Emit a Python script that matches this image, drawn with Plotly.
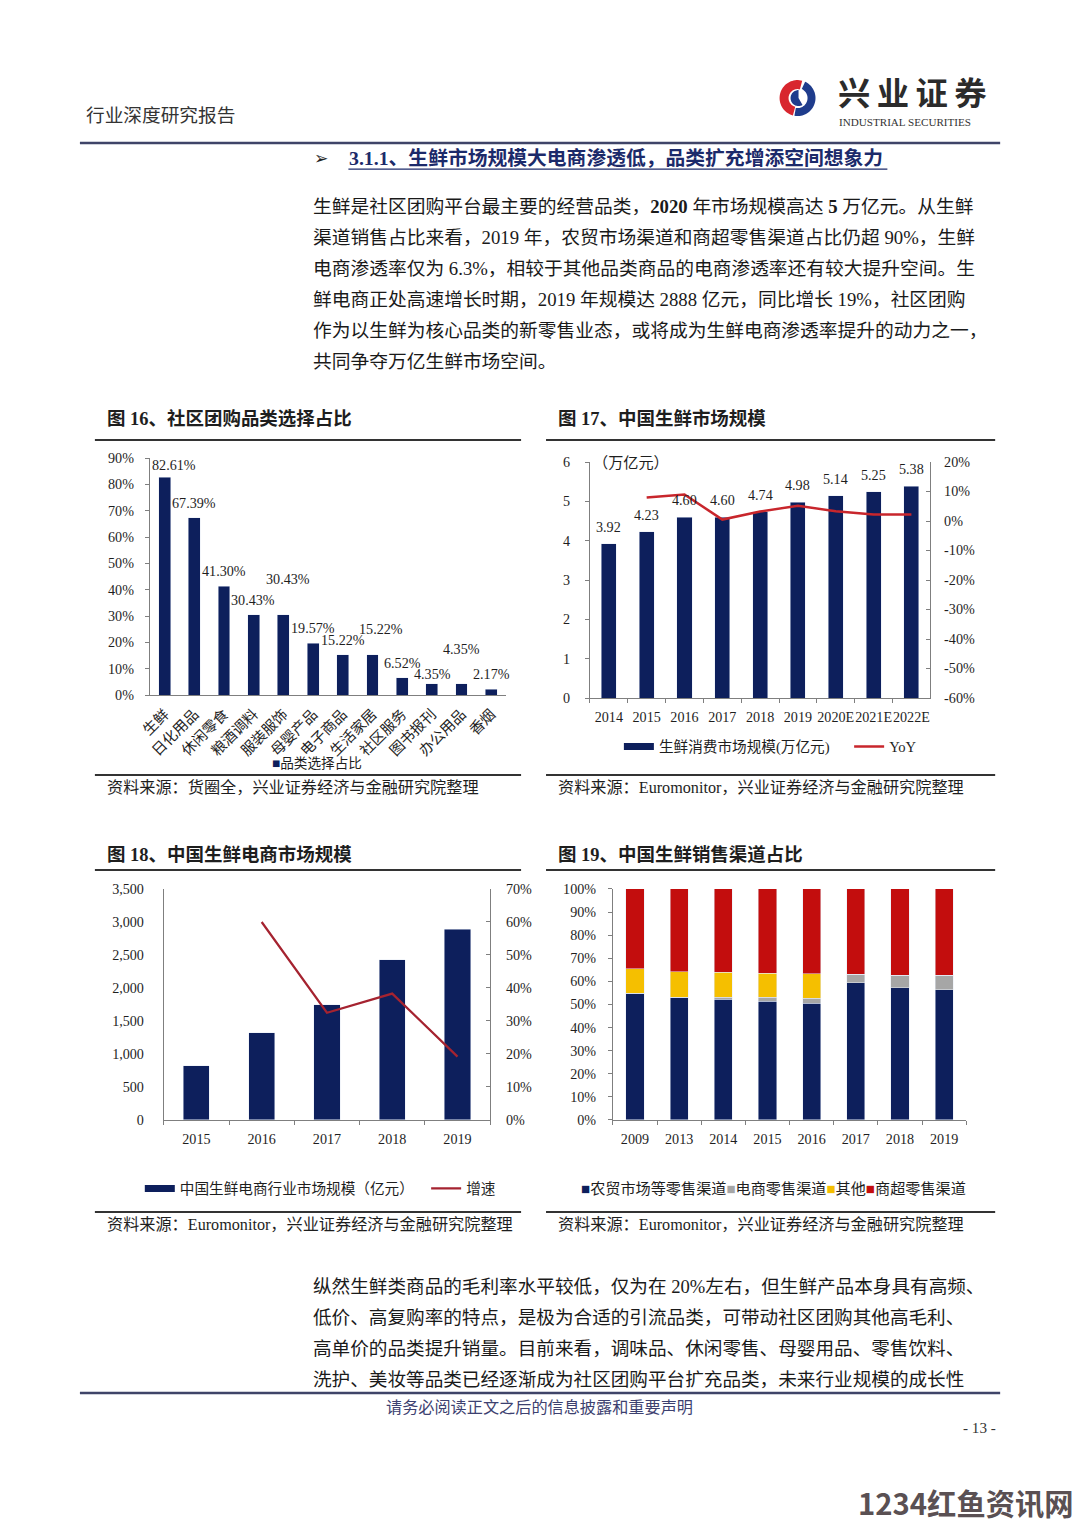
import numpy as np
import plotly.graph_objects as go

W, H = 1080, 1527
# The page is captured with the default 8px body margin and then fitted back to
# 1080x1527, so positions are pre-compensated for that fit.
OFF = 8
SX = 1080 / 1088
SY = 1527 / 1543
FS = 1.01  # font compensation for the fit

FONT = "Liberation Serif, 'Noto Sans CJK SC', serif"
NAVY = "#0d1f5c"
RED17 = "#c8262c"
RED18 = "#a52330"
GREY = "#a6a6a6"
YELLOW = "#f5bf00"
RED19 = "#c30d0d"
AXIS = "#7f7f7f"
TXT = "#1e1e1e"


def px(x):
    return (x / SX - OFF) / W


def py(y):
    return 1 - (y / SY - OFF) / H


def fs(s):
    return round(s * FS, 2)


# ---------------- data ----------------
c16_categories = ["生鲜", "日化用品", "休闲零食", "粮酒调料", "服装服饰", "母婴产品",
                  "电子商品", "生活家居", "社区服务", "图书报刊", "办公用品", "香烟"]
c16_share = [0.8261, 0.6739, 0.4130, 0.3043, 0.3043, 0.1957,
             0.1522, 0.1522, 0.0652, 0.0435, 0.0435, 0.0217]
c16_labels = ["82.61%", "67.39%", "41.30%", "30.43%", "30.43%", "19.57%",
              "15.22%", "15.22%", "6.52%", "4.35%", "4.35%", "2.17%"]
# label placement offsets (style only, pixels)
c16_label_dx = [9, 0, 0, -1, 5, 0, 0, 9, 0, 1, 0, 0]
c16_label_dy = [-3, 0, 0, 0, 21, 0, 0, 11, 0, -5, 20, 0]

c17_years = ["2014", "2015", "2016", "2017", "2018", "2019", "2020E", "2021E", "2022E"]
c17_market = [3.92, 4.23, 4.60, 4.60, 4.74, 4.98, 5.14, 5.25, 5.38]
c17_labels = ["3.92", "4.23", "4.60", "4.60", "4.74", "4.98", "5.14", "5.25", "5.38"]
c17_yoy = [None, 0.080, 0.090, 0.005, 0.032, 0.052, 0.033, 0.022, 0.022]
c17_right_vals = [-0.6, -0.5, -0.4, -0.3, -0.2, -0.1, 0.0, 0.1, 0.2]
c17_right_text = ["-60%", "-50%", "-40%", "-30%", "-20%", "-10%", "0%", "10%", "20%"]

c18_years = ["2015", "2016", "2017", "2018", "2019"]
c18_market = [823, 1318, 1747, 2424, 2888]
c18_growth = [None, 0.600, 0.325, 0.383, 0.192]

c19_years = ["2009", "2013", "2014", "2015", "2016", "2017", "2018", "2019"]
c19_farm = [54.8, 53.1, 52.2, 51.4, 50.5, 59.3, 57.3, 56.3]
c19_ecom = [0.0, 0.0, 0.9, 1.7, 2.2, 3.8, 5.3, 6.3]
c19_other = [10.6, 11.0, 10.8, 10.5, 10.6, 0.0, 0.0, 0.0]
c19_super = [34.6, 35.9, 36.1, 36.4, 36.7, 36.9, 37.4, 37.4]
c19_names = ["农贸市场等零售渠道", "电商零售渠道", "其他", "商超零售渠道"]

# ---------------- traces ----------------
fig = go.Figure()

fig.add_trace(go.Bar(x=c16_categories, y=c16_share, width=0.4, marker_color=NAVY,
                     name="品类选择占比", showlegend=False, xaxis="x", yaxis="y"))

fig.add_trace(go.Scatter(x=[None], y=[None], mode="lines", line=dict(color=NAVY, width=7),
                         name="生鲜消费市场规模(万亿元)\u2003", legend="legend", xaxis="x2", yaxis="y2"))
fig.add_trace(go.Bar(x=c17_years, y=c17_market, width=0.4, marker_color=NAVY,
                     name="生鲜消费市场规模(万亿元)", showlegend=False, xaxis="x2", yaxis="y2"))
fig.add_trace(go.Scatter(x=c17_years, y=c17_yoy, mode="lines", line=dict(color=RED17, width=2.5),
                         name="YoY", legend="legend", xaxis="x2", yaxis="y3"))

fig.add_trace(go.Scatter(x=[None], y=[None], mode="lines", line=dict(color=NAVY, width=7),
                         name="中国生鲜电商行业市场规模（亿元）\u2002", legend="legend2", xaxis="x3", yaxis="y4"))
fig.add_trace(go.Bar(x=c18_years, y=c18_market, width=0.4, marker_color=NAVY,
                     name="中国生鲜电商行业市场规模（亿元）", showlegend=False, xaxis="x3", yaxis="y4"))
fig.add_trace(go.Scatter(x=c18_years, y=c18_growth, mode="lines", line=dict(color=RED18, width=2.2),
                         name="增速", legend="legend2", xaxis="x3", yaxis="y5"))

for vals, col, nm in [(c19_farm, NAVY, c19_names[0]), (c19_ecom, GREY, c19_names[1]),
                      (c19_other, YELLOW, c19_names[2]), (c19_super, RED19, c19_names[3])]:
    fig.add_trace(go.Bar(x=c19_years, y=vals, width=0.41, marker_color=col, name=nm,
                         showlegend=False, xaxis="x4", yaxis="y6"))

# ---------------- axes ----------------
tickfont = dict(family=FONT, size=fs(14), color=TXT)
common_x = dict(type="category", showline=True, linecolor=AXIS, linewidth=1, showgrid=False,
                zeroline=False, tickfont=tickfont, ticklabelstandoff=4, fixedrange=True)
common_y = dict(showline=True, linecolor=AXIS, linewidth=1, showgrid=False, zeroline=False,
                tickfont=tickfont, ticks="outside", ticklen=4, tickcolor=AXIS, fixedrange=True)

layout = dict(
    width=W, height=H, margin=dict(l=0, r=0, t=0, b=0), autosize=False,
    paper_bgcolor="white", plot_bgcolor="white", barmode="stack",
    font=dict(family=FONT, color=TXT),
    xaxis=dict(common_x, domain=[px(148), px(505)], anchor="y", range=[-0.5, 11.5],
               tickangle=-45, ticks="", tickfont=dict(family=FONT, size=fs(14.5), color=TXT)),
    yaxis=dict(common_y, domain=[py(695), py(458)], anchor="x", range=[0, 0.9], dtick=0.1,
               tickformat=".0%", ticklabelstandoff=8),
    xaxis2=dict(common_x, domain=[px(589), px(930)], anchor="y2", range=[-0.5, 8.5],
                tickangle=0, ticks="outside", tickson="boundaries", ticklen=4, tickcolor=AXIS,
                ticklabelstandoff=6),
    yaxis2=dict(common_y, domain=[py(698), py(462)], anchor="x2", range=[0, 6], dtick=1,
                ticklabelstandoff=12),
    yaxis3=dict(common_y, overlaying="y2", side="right", anchor="x2", range=[-0.6, 0.2],
                tickvals=c17_right_vals, ticktext=c17_right_text, ticks="inside",
                ticklabelstandoff=10),
    xaxis3=dict(common_x, domain=[px(162), px(489)], anchor="y4", range=[-0.5, 4.5],
                tickangle=0, ticks="outside", tickson="boundaries", ticklen=4, tickcolor=AXIS,
                ticklabelstandoff=6),
    yaxis4=dict(common_y, domain=[py(1120), py(889)], anchor="x3", range=[0, 3500], dtick=500,
                tickformat=",d", ticks="", ticklabelstandoff=16),
    yaxis5=dict(common_y, overlaying="y4", side="right", anchor="x3", range=[0, 0.7], dtick=0.1,
                tickformat=".0%", ticks="inside", ticklabelstandoff=12),
    xaxis4=dict(common_x, domain=[px(612), px(966)], anchor="y6", range=[-0.5, 7.5],
                tickangle=0, ticks="outside", tickson="boundaries", ticklen=4, tickcolor=AXIS,
                ticklabelstandoff=6),
    yaxis6=dict(common_y, domain=[py(1120), py(889)], anchor="x4", range=[0, 100], dtick=10,
                ticksuffix="%", ticklabelstandoff=9),
    legend=dict(x=px(618), y=py(747), xanchor="left", yanchor="middle", orientation="h",
                font=dict(family=FONT, size=fs(14.5), color=TXT), bgcolor="rgba(0,0,0,0)",
                itemwidth=30, traceorder="normal"),
    legend2=dict(x=px(138), y=py(1189), xanchor="left", yanchor="middle", orientation="h",
                 font=dict(family=FONT, size=fs(14.5), color=TXT), bgcolor="rgba(0,0,0,0)",
                 itemwidth=30, traceorder="normal"),
)
fig.update_layout(**layout)

annotations = []
shapes = []


def txt(x, y, text, size, color=TXT, anchor="left", family=FONT):
    annotations.append(dict(x=px(x), y=py(y), xref="paper", yref="paper", text=text,
                            showarrow=False, xanchor=anchor, yanchor="middle",
                            font=dict(family=family, size=fs(size), color=color)))


def hline(x0, x1, y, width=2, color="#3a3a3a"):
    shapes.append(dict(type="line", xref="paper", yref="paper", x0=px(x0), x1=px(x1),
                       y0=py(y), y1=py(y), line=dict(color=color, width=width)))


for i, (v, lab) in enumerate(zip(c16_share, c16_labels)):
    annotations.append(dict(x=i, y=v, xref="x", yref="y", text=lab, showarrow=False,
                            yanchor="middle", xshift=c16_label_dx[i], yshift=15 + c16_label_dy[i],
                            font=dict(family=FONT, size=fs(14), color=TXT)))
for i, (v, lab) in enumerate(zip(c17_market, c17_labels)):
    annotations.append(dict(x=i, y=v, xref="x2", yref="y2", text=lab, showarrow=False,
                            yanchor="middle", yshift=17, font=dict(family=FONT, size=fs(14), color=TXT)))

# header
txt(82, 115, "行业深度研究报告", 18.5, "#333333")
txt(836, 94, "<b>兴\u2009业\u2009证\u2009券</b>", 32, "#2b2b2b")
txt(837, 122, "INDUSTRIAL SECURITIES", 11, "#333333")
hline(78, 1000, 143, 2.5, "#3f4468")


def ring(cx, cy, a0, a1, r_out, r_in):
    a = np.radians(np.linspace(a0, a1, 40))
    pts = [(cx + r_out * np.cos(t), cy - r_out * np.sin(t)) for t in a]
    pts += [(cx + r_in * np.cos(t), cy - r_in * np.sin(t)) for t in a[::-1]]
    return "M" + " L".join(f"{px(x):.5f},{py(y):.5f}" for x, y in pts) + " Z"


shapes.append(dict(type="path", xref="paper", yref="paper", path=ring(797, 98, 75, 255, 18, 9),
                   fillcolor="#d8262e", line=dict(width=0)))
shapes.append(dict(type="path", xref="paper", yref="paper", path=ring(797, 98, -100, 65, 18, 10),
                   fillcolor="#1f3c8c", line=dict(width=0)))
shapes.append(dict(type="path", xref="paper", yref="paper", path=ring(798, 98, 90, 300, 8, 0),
                   fillcolor="#1f3c8c", line=dict(width=0)))

txt(311, 158, "➢", 17, "#222222", family="DejaVu Sans")
txt(346, 158, "<b>3.1.1、生鲜市场规模大电商渗透低，品类扩充增添空间想象力</b>", 19.6, "#1c2a6a")
hline(347, 887, 169, 1.2, "#1c2a6a")

para = [
    "生鲜是社区团购平台最主要的经营品类，<b>2020</b> 年市场规模高达 <b>5</b> 万亿元。从生鲜",
    "渠道销售占比来看，2019 年，农贸市场渠道和商超零售渠道占比仍超 90%，生鲜",
    "电商渗透率仅为 6.3%，相较于其他品类商品的电商渗透率还有较大提升空间。生",
    "鲜电商正处高速增长时期，2019 年规模达 2888 亿元，同比增长 19%，社区团购",
    "作为以生鲜为核心品类的新零售业态，或将成为生鲜电商渗透率提升的动力之一，",
    "共同争夺万亿生鲜市场空间。",
]
for i, line in enumerate(para):
    txt(310, 206 + 31 * i, line, 18.55, "#1a1a1a")

for (x0, x1) in [(93, 520), (545, 995)]:
    hline(x0, x1, 440, 2, "#333333")
    hline(x0, x1, 775, 2, "#333333")
    hline(x0, x1, 870, 2, "#333333")
    hline(x0, x1, 1212, 2, "#333333")

txt(103, 418, "<b>图 16、社区团购品类选择占比</b>", 18.3)
txt(555, 418, "<b>图 17、中国生鲜市场规模</b>", 18.3)
txt(103, 855, "<b>图 18、中国生鲜电商市场规模</b>", 18.3)
txt(555, 855, "<b>图 19、中国生鲜销售渠道占比</b>", 18.3)
txt(103, 788, "资料来源：货圈全，兴业证券经济与金融研究院整理", 16)
txt(555, 788, "资料来源：Euromonitor，兴业证券经济与金融研究院整理", 16)
txt(103, 1225, "资料来源：Euromonitor，兴业证券经济与金融研究院整理", 16)
txt(555, 1225, "资料来源：Euromonitor，兴业证券经济与金融研究院整理", 16)

txt(590, 462, "（万亿元）", 15)

txt(268, 763, f'<span style="color:{NAVY}">■</span>品类选择占比', 13.5)
leg19 = "".join(f'<span style="color:{c}">■</span>{n}' for c, n in
                zip([NAVY, GREY, YELLOW, RED19], c19_names))
txt(578, 1189, leg19, 15)

para2 = [
    "纵然生鲜类商品的毛利率水平较低，仅为在 20%左右，但生鲜产品本身具有高频、",
    "低价、高复购率的特点，是极为合适的引流品类，可带动社区团购其他高毛利、",
    "高单价的品类提升销量。目前来看，调味品、休闲零售、母婴用品、零售饮料、",
    "洗护、美妆等品类已经逐渐成为社区团购平台扩充品类，未来行业规模的成长性",
]
for i, line in enumerate(para2):
    txt(310, 1287 + 31 * i, line, 18.45, "#1a1a1a")

hline(78, 1000, 1393, 2.5, "#3f4468")
txt(538, 1408, "请务必阅读正文之后的信息披露和重要声明", 16, "#3d4170", anchor="center")
txt(998, 1428, "- 13 -", 15, "#333333", anchor="right")

txt(1076, 1502, "<b>1234红鱼资讯网</b>", 29, "#5a5053", anchor="right",
    family="'Noto Sans CJK SC', sans-serif")

fig.update_layout(annotations=annotations, shapes=shapes)
fig.write_html("out.html",
               post_script="document.body.style.margin='0';document.body.style.overflow='hidden';")
